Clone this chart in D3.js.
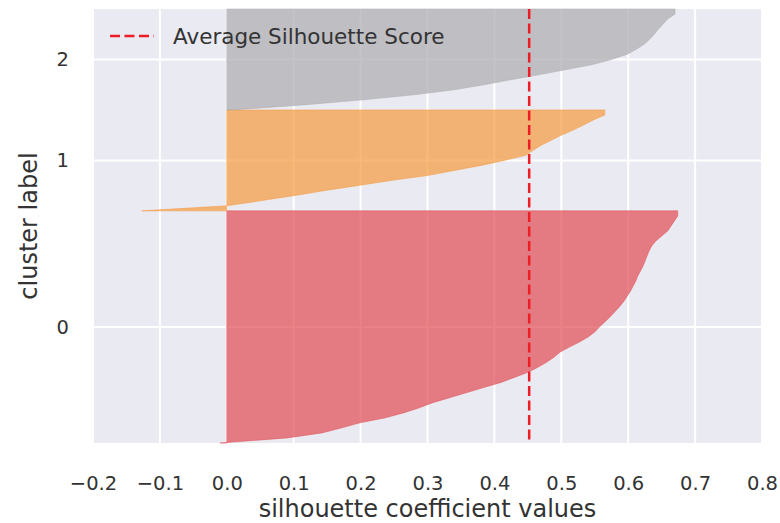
<!DOCTYPE html>
<html>
<head>
<meta charset="utf-8">
<script src="https://cdn.jsdelivr.net/npm/d3@7"></script>
<style>
  body { margin: 0; background: #fff; }
  text { font-family: "DejaVu Sans", sans-serif; fill: #333; }
</style>
</head>
<body>
<svg width="780" height="523"></svg>
<script>

// silhouette values per cluster, sorted ascending
var cluster0 = [-0.010, 0.090, 0.142, 0.172, 0.199, 0.237, 0.265, 0.288, 0.308, 0.334,
                0.359, 0.384, 0.410, 0.430, 0.450, 0.465, 0.478, 0.489, 0.498, 0.512,
                0.527, 0.540, 0.550, 0.557, 0.565, 0.573, 0.580, 0.587, 0.593, 0.598,
                0.603, 0.607, 0.611, 0.614, 0.618, 0.622, 0.625, 0.628, 0.631, 0.635,
                0.641, 0.650, 0.659, 0.664, 0.669, 0.674];
var cluster1 = [-0.127, 0.000, 0.050, 0.100, 0.145, 0.195, 0.245, 0.300, 0.340, 0.380,
                0.415, 0.447, 0.458, 0.470, 0.485, 0.500, 0.518, 0.533, 0.548, 0.565];
var cluster2 = [0.008, 0.114, 0.204, 0.280, 0.340, 0.385, 0.425, 0.468, 0.508, 0.547,
                0.575, 0.598, 0.612, 0.624, 0.632, 0.639, 0.645, 0.652, 0.659, 0.670];

var clusterLabels = ["0", "1", "2"];
var clusterColors = ["rgb(225,75,82)", "rgb(245,154,61)", "rgb(171,171,175)"];
var xTicks = [-0.2, -0.1, 0.0, 0.1, 0.2, 0.3, 0.4, 0.5, 0.6, 0.7, 0.8];
var avgScore = 0.452;

var svg = d3.select("svg");

var pLeft = 93, pRight = 762, pTop = 9, pBottom = 443;
var clusters = [cluster0, cluster1, cluster2];
var total = d3.sum(clusters, function(c) { return c.length; });

var x = d3.scaleLinear().domain([-0.2, 0.8]).range([pLeft, pRight]);
var y = d3.scaleLinear().domain([0, total]).range([pBottom, pTop]);

svg.append("rect")
    .attr("x", pLeft).attr("y", pTop)
    .attr("width", pRight - pLeft).attr("height", pBottom - pTop)
    .attr("fill", "#EAEAF2");

// build polygons + tick positions
var start = 0, tickPos = [];
var shapes = clusters.map(function(vals, k) {
    var pts = vals.map(function(v, i) { return {v: v, p: start + i}; });
    pts.push({v: vals[vals.length - 1], p: start + vals.length});
    tickPos.push(start + vals.length / 2);
    start += vals.length;
    return {pts: pts, color: clusterColors[k]};
});

// grid
svg.append("g")
    .selectAll("line")
    .data(xTicks)
    .enter().append("line")
    .attr("x1", function(d) { return x(d); })
    .attr("x2", function(d) { return x(d); })
    .attr("y1", pTop).attr("y2", pBottom)
    .attr("stroke", "#fff").attr("stroke-width", 2);

svg.append("g")
    .selectAll("line")
    .data(tickPos)
    .enter().append("line")
    .attr("x1", pLeft).attr("x2", pRight)
    .attr("y1", function(d) { return y(d); })
    .attr("y2", function(d) { return y(d); })
    .attr("stroke", "#fff").attr("stroke-width", 2);

var area = d3.area()
    .x0(x(0))
    .x1(function(d) { return x(d.v); })
    .y(function(d) { return y(d.p); });

svg.append("g")
    .selectAll("path")
    .data(shapes)
    .enter().append("path")
    .attr("d", function(d) { return area(d.pts); })
    .attr("fill", function(d) { return d.color; })
    .attr("fill-opacity", 0.7)
    .attr("stroke", function(d) { return d.color; })
    .attr("stroke-opacity", 0.5)
    .attr("stroke-width", 1);

// average line
svg.append("line")
    .attr("x1", x(avgScore)).attr("x2", x(avgScore))
    .attr("y1", pTop).attr("y2", pBottom)
    .attr("stroke", "#ee1c25").attr("stroke-width", 2.5)
    .attr("stroke-dasharray", "10,4.5");

// x axis labels
var xAxis = d3.axisBottom(x)
    .tickValues(xTicks)
    .tickSize(0)
    .tickPadding(0)
    .tickFormat(d3.format(".1f"));

var gx = svg.append("g").attr("transform", "translate(0," + pBottom + ")").call(xAxis);
gx.select(".domain").remove();
gx.selectAll("text")
    .attr("y", 0).attr("dy", null)
    .attr("transform", "translate(0,47)")
    .style("font-size", "19.5px")
    .style("font-family", "DejaVu Sans")
    .style("fill", "#333");

// y axis labels
var yAxis = d3.axisLeft(y)
    .tickValues(tickPos)
    .tickSize(0)
    .tickPadding(0)
    .tickFormat(function(d, i) { return clusterLabels[i]; });

var gy = svg.append("g").attr("transform", "translate(69,0)").call(yAxis);
gy.select(".domain").remove();
gy.selectAll("text")
    .style("font-size", "19.5px")
    .style("font-family", "DejaVu Sans")
    .style("fill", "#333");

svg.append("text")
    .attr("x", (pLeft + pRight) / 2)
    .attr("y", 517)
    .attr("text-anchor", "middle")
    .style("font-size", "24px")
    .text("silhouette coefficient values");

svg.append("text")
    .attr("transform", "translate(37," + ((pTop + pBottom) / 2) + ") rotate(-90)")
    .attr("text-anchor", "middle")
    .style("font-size", "24px")
    .text("cluster label");

// legend
svg.append("line")
    .attr("x1", 110).attr("x2", 154)
    .attr("y1", 36).attr("y2", 36)
    .attr("stroke", "#ee1c25").attr("stroke-width", 2.5)
    .attr("stroke-dasharray", "10,4.5");

svg.append("text")
    .attr("x", 173).attr("y", 44)
    .style("font-size", "21.5px")
    .text("Average Silhouette Score");

</script>
</body>
</html>
